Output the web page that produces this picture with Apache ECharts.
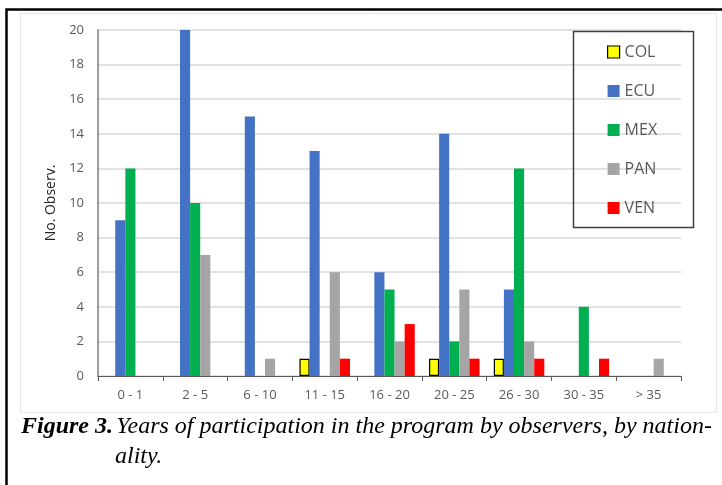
<!DOCTYPE html>
<html>
<head>
<meta charset="utf-8">
<script src="https://cdn.jsdelivr.net/npm/echarts@6/dist/echarts.min.js"></script>
<style>
html,body{margin:0;padding:0;background:#fff;}
#chart{width:722px;height:485px;}
</style>
</head>
<body>
<div id="chart"></div>
<script>
const categories = ['0 - 1','2 - 5','6 - 10','11 - 15','16 - 20','20 - 25','26 - 30','30 - 35','> 35'];
const seriesNames = ['COL','ECU','MEX','PAN','VEN'];
const COL = [0,0,0,1,0,1,1,0,0];
const ECU = [9,20,15,13,6,14,5,0,0];
const MEX = [12,10,0,0,5,2,12,4,0];
const PAN = [0,7,1,6,2,5,2,0,1];
const VEN = [0,0,0,1,3,1,1,1,0];
const yTicks = [0,2,4,6,8,10,12,14,16,18,20];

const colors = {COL:'#FFFF00', ECU:'#4472C4', MEX:'#00B050', PAN:'#A5A5A5', VEN:'#FF0000'};
const dataMap = {COL, ECU, MEX, PAN, VEN};

const chart = echarts.init(document.getElementById('chart'));
const series = seriesNames.map(n => ({
  name: n,
  type: 'bar',
  data: dataMap[n].map(v => v === 0 ? null : v),
  barGap: '0%',
  barCategoryGap: '22%',
  itemStyle: n === 'COL'
    ? {color: colors[n], borderColor: '#000', borderWidth: 1.2}
    : {color: colors[n]},
  emphasis: {disabled: true}
}));

const serif = 'Liberation Serif';
chart.setOption({
  animation: false,
  backgroundColor: '#fff',
  grid: {left: 98, right: 41, top: 30, bottom: 109},
  xAxis: {
    type: 'category',
    data: categories,
    axisLine: {lineStyle: {color: '#595959', width: 1}},
    axisTick: {show: true, length: 5, lineStyle: {color: '#595959'}},
    axisLabel: {color: '#595959', fontSize: 13, fontFamily: 'Open Sans', margin: 13}
  },
  yAxis: {
    type: 'value',
    min: yTicks[0],
    max: yTicks[yTicks.length-1],
    interval: 2,
    name: 'No. Observ.',
    nameLocation: 'middle',
    nameGap: 35,
    nameRotate: 90,
    nameTextStyle: {color: '#262626', fontSize: 14, fontFamily: 'Open Sans'},
    axisLine: {show: true, lineStyle: {color: '#7f7f7f', width: 1.5}},
    axisTick: {show: false},
    splitLine: {lineStyle: {color: '#d9d9d9', width: 1.5}},
    axisLabel: {color: '#595959', fontSize: 13, fontFamily: 'Open Sans', margin: 14}
  },
  legend: {
    orient: 'vertical',
    left: 607,
    top: 44,
    padding: 0,
    itemGap: 23,
    itemWidth: 12,
    itemHeight: 12,
    itemStyle: {borderWidth: 0},
    icon: 'rect',
    textStyle: {color: '#595959', fontSize: 16, fontFamily: 'Open Sans'},
    data: seriesNames.map(n => n === 'COL'
      ? {name: n, itemStyle: {borderColor: '#000', borderWidth: 1.2}}
      : {name: n})
  },
  graphic: [
    {type: 'rect', shape: {x: 20.5, y: 13.5, width: 696, height: 399}, style: {fill: 'none', stroke: '#e6e6e6', lineWidth: 1}, z: 90},
    {type: 'rect', shape: {x: 573.5, y: 31.5, width: 120, height: 196}, style: {fill: 'none', stroke: '#404040', lineWidth: 1.5}, z: 100},
    {type: 'rect', shape: {x: 6.5, y: 9.5, width: 730, height: 490}, style: {fill: 'none', stroke: '#000', lineWidth: 2.5}, z: 100},
    {type: 'text', x: 21, y: 427, style: {
      text: '{b|Figure 3.} {i|Years of participation in the program by observers, by nation-}',
      verticalAlign: 'middle',
      rich: {
        b: {fontFamily: serif, fontStyle: 'italic', fontWeight: 'bold', fontSize: 24, fill: '#000'},
        i: {fontFamily: serif, fontStyle: 'italic', fontSize: 24, fill: '#000'}
      }
    }},
    {type: 'text', x: 115, y: 457, style: {
      text: 'ality.', verticalAlign: 'middle', fontFamily: serif, fontStyle: 'italic', fontSize: 24, fill: '#000'
    }}
  ],
  series
});
</script>
</body>
</html>
